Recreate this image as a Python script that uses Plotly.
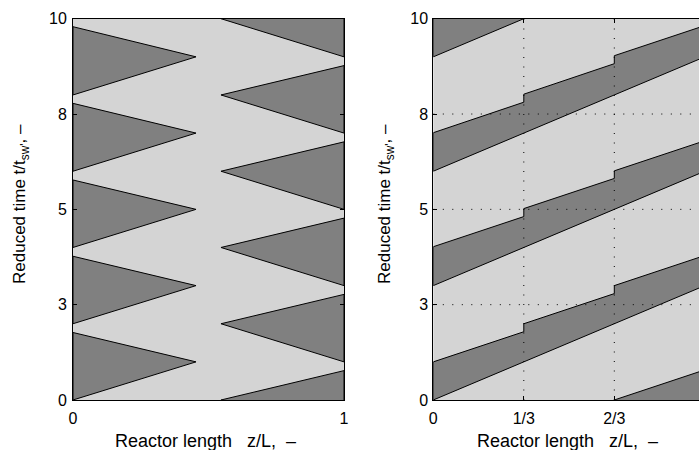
import plotly.graph_objects as go

# ---------------- data ----------------
# Left panel: dark triangles attached to the inlet side (z/L = 0)
left_tri_z_apex = 0.454
left_tri_t_start = [0.0, 2.0, 4.0, 6.0, 8.0]
left_tri_t_apex = [1.0, 3.0, 5.0, 7.0, 9.0]
left_tri_t_end = [1.77, 3.77, 5.77, 7.78, 9.79]

# Left panel: dark triangles attached to the outlet side (z/L = 1)
right_tri_z_apex = 0.546
right_tri_t_start = [-1.0, 1.0, 3.0, 5.0, 7.0, 9.0]
right_tri_t_apex = [0.0, 2.0, 4.0, 6.0, 8.0, 10.0]
right_tri_t_end = [0.77, 2.77, 4.77, 6.77, 8.77, 10.77]

# Right panel: dark bands (three sections)
section_z = [0.0, 1/3, 2/3, 1.0]
upper_z = [0.0, 1/3, 1/3, 2/3, 2/3, 1.0]
band_lower_t = [
    [-3.0, -2.0, -1.0, 0.0],
    [0.0, 1.0, 2.0, 3.0],
    [3.0, 4.0, 5.0, 6.0],
    [6.0, 7.0, 8.0, 9.0],
    [9.0, 10.0, 11.0, 12.0],
]
band_upper_t = [
    [-2.0, -1.21, -1.0, -0.21, 0.0, 0.79],
    [1.0, 1.79, 2.0, 2.79, 3.0, 3.79],
    [4.02, 4.81, 5.02, 5.81, 6.01, 6.8],
    [7.01, 7.81, 8.02, 8.82, 9.03, 9.82],
    [10.0, 10.79, 11.0, 11.79, 12.0, 12.79],
]

y_tickvals = [0, 2.5, 5, 7.5, 10]
y_ticktext = ["0", "3", "5", "8", "10"]
x1_tickvals = [0, 1]
x1_ticktext = ["0", "1"]
x2_tickvals = [0, 1/3, 2/3, 1]
x2_ticktext = ["0", "1/3", "2/3", "1"]
grid_x2 = [1/3, 2/3]
grid_y2 = [2.5, 5, 7.5]

xlabel = "Reactor length\u00a0\u00a0\u00a0z/L,\u00a0\u00a0–"
ylabel = "Reduced time t/t<sub>sw'</sub>, –"

# ---------------- styling ----------------
LIGHT = "#d4d4d4"
DARK = "#808080"
FONT = "Liberation Sans, Arial, sans-serif"
W, H = 699, 450

fig = go.Figure()

def poly(xs, ys, xa, ya):
    fig.add_trace(go.Scatter(
        x=xs, y=ys, mode="lines", fill="toself", fillcolor=DARK,
        line=dict(color="black", width=1), xaxis=xa, yaxis=ya,
        hoverinfo="skip", showlegend=False))

# left panel polygons
for s, a, e in zip(left_tri_t_start, left_tri_t_apex, left_tri_t_end):
    poly([0, left_tri_z_apex, 0, 0], [s, a, e, s], "x", "y")
for s, a, e in zip(right_tri_t_start, right_tri_t_apex, right_tri_t_end):
    poly([1, right_tri_z_apex, 1, 1], [s, a, e, s], "x", "y")

# right panel bands
for lo, up in zip(band_lower_t, band_upper_t):
    xs = list(section_z) + list(reversed(upper_z)) + [section_z[0]]
    ys = list(lo) + list(reversed(up)) + [lo[0]]
    poly(xs, ys, "x2", "y2")

# geometry
x1_dom = [73 / W, 344 / W]
x2_dom = [433.3 / W, 1.0]
y_dom = [50 / H, (H - 18.7) / H]
x2_end = (W - 433.3) / 271.5

axis_common = dict(showgrid=False, zeroline=False, showline=True, linecolor="black",
                   linewidth=1, ticks="inside", ticklen=4, tickcolor="black",
                   automargin=False,
                   tickfont=dict(family=FONT, size=16, color="black"))

fig.update_layout(
    template="none",
    width=W, height=H, margin=dict(l=0, r=0, t=0, b=0, pad=0, autoexpand=False),
    paper_bgcolor="white", plot_bgcolor=LIGHT, showlegend=False,
    xaxis=dict(domain=x1_dom, range=[0, 1], tickvals=x1_tickvals, ticktext=x1_ticktext,
               mirror="ticks", anchor="y", ticklabelstandoff=4, **axis_common),
    yaxis=dict(domain=y_dom, range=[0, 10], tickvals=y_tickvals, ticktext=y_ticktext,
               mirror="ticks", anchor="x", ticklabelstandoff=2, **axis_common),
    xaxis2=dict(domain=x2_dom, range=[0, x2_end], tickvals=x2_tickvals, ticktext=x2_ticktext,
                mirror="ticks", anchor="y2", ticklabelstandoff=4, **axis_common),
    yaxis2=dict(domain=y_dom, range=[0, 10], tickvals=y_tickvals, ticktext=y_ticktext,
                mirror=False, anchor="x2", ticklabelstandoff=1, **axis_common),
)

shapes = []
for gx in grid_x2:
    shapes.append(dict(type="line", xref="x2", yref="y2", x0=gx, x1=gx, y0=0, y1=10,
                       layer="above", line=dict(color="black", width=1, dash="1px,8.5px")))
for gy in grid_y2:
    shapes.append(dict(type="line", xref="x2", yref="y2", x0=0, x1=x2_end, y0=gy, y1=gy,
                       layer="above", line=dict(color="black", width=1, dash="1px,8.5px")))
fig.update_layout(shapes=shapes)

lab_font = dict(family=FONT, size=18, color="black")
ylab_font = dict(family=FONT, size=17, color="black")
annotations = [
    dict(text=xlabel, x=205.7 / W, y=(H - 441) / H, xref="paper", yref="paper",
         xanchor="center", yanchor="middle", showarrow=False, font=lab_font),
    dict(text=xlabel, x=567 / W, y=(H - 441) / H, xref="paper", yref="paper",
         xanchor="center", yanchor="middle", showarrow=False, font=lab_font),
    dict(text=ylabel, x=21 / W, y=(H - 204) / H, xref="paper", yref="paper", textangle=-90,
         xanchor="center", yanchor="middle", showarrow=False, font=ylab_font),
    dict(text=ylabel, x=386 / W, y=(H - 204) / H, xref="paper", yref="paper", textangle=-90,
         xanchor="center", yanchor="middle", showarrow=False, font=ylab_font),
]
fig.update_layout(annotations=annotations)

fig.write_html("out.html")
